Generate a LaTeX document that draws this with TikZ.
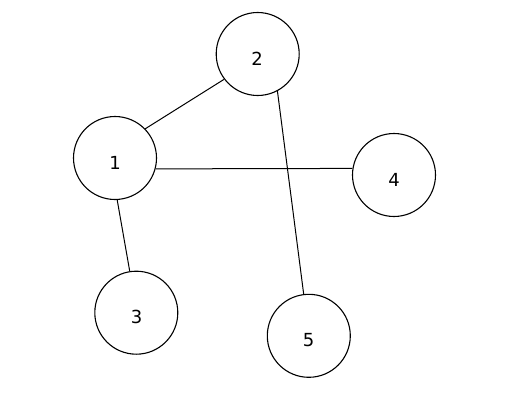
\documentclass[tikz,border=0pt]{standalone}
\usepackage{fontspec}
\setmainfont{DejaVu Sans}
\begin{document}
\begin{tikzpicture}[x=1pt,y=-1pt,
  vert/.style={circle,draw,line width=1.1pt,minimum size=83pt,inner sep=0pt},
  lab/.style={font=\fontsize{18}{18}\selectfont},
  edge/.style={line width=1pt}]
\useasboundingbox (0,0) rectangle (519,409);
\node[vert] (n2) at (257.7,54) {};
\node[vert] (n1) at (115,158) {};
\node[vert] (n4) at (394,175) {};
\node[vert] (n3) at (136.3,312.7) {};
\node[vert] (n5) at (308.8,335.8) {};
\node[lab] (t2) at (257,59) {2};
\node[lab] (t1) at (115,162.5) {1};
\node[lab] (t4) at (394,179.5) {4};
\node[lab] (t3) at (136.5,316.5) {3};
\node[lab] (t5) at (308.5,340) {5};
\draw[edge] (n1.44.7) -- (n2.217);
\draw[edge] (n1.-15) -- (n4.171.9);
\draw[edge] (n2.-62.6) -- (n5.97);
\draw[edge] (n1.-87.6) -- (n3.99.9);
\end{tikzpicture}
\end{document}
